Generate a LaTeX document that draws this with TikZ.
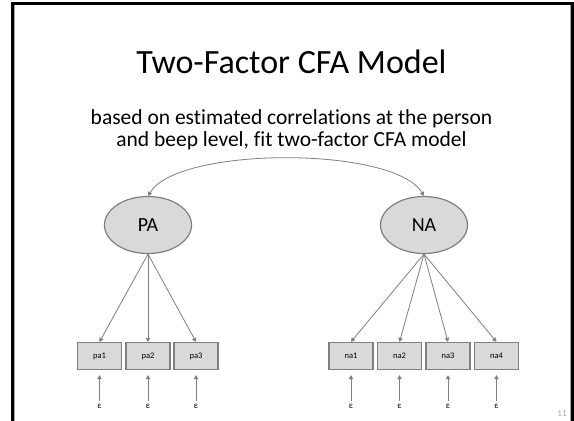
\documentclass[tikz,border=0pt]{standalone}
\usepackage{fontspec}
\setmainfont{Carlito}[Ligatures=NoCommon]
\usetikzlibrary{arrows.meta,shapes.geometric}
\definecolor{linegray}{HTML}{7F7F7F}
\definecolor{fillgray}{HTML}{D9D9D9}
\definecolor{edgegray}{HTML}{A6A6A6}

\begin{document}
\begin{tikzpicture}[x=1pt,y=-1pt,
    factor/.style={ellipse,draw=linegray,fill=fillgray,line width=1.2pt,
        minimum width=87pt,minimum height=57pt,inner sep=0pt,
        font=\fontsize{20}{24}\selectfont},
    indicator/.style={rectangle,draw=linegray,fill=fillgray,line width=1.3pt,
        minimum width=44pt,minimum height=27pt,inner sep=0pt,
        font=\fontsize{8.5}{10}\selectfont},
    resid/.style={inner sep=0pt,font=\fontsize{9}{10}\selectfont},
    load/.style={draw=linegray,line width=0.8pt,-{Triangle[length=4pt,width=4.5pt]}},
    cov/.style={draw=linegray,line width=0.8pt,
        {Triangle[length=4pt,width=4.5pt]}-{Triangle[length=4pt,width=4.5pt]}}]
    \useasboundingbox[fill=white] (0,0) rectangle (574,421);

    \draw[black,line width=3pt] (12.5,421) -- (12.5,3.5) -- (572.5,3.5) -- (572.5,421);
    \draw[edgegray,line width=1pt] (14.5,5) -- (14.5,421);
    \draw[edgegray,line width=1pt] (570.5,5) -- (570.5,421);

    \node[anchor=base,font=\fontsize{34}{40}\selectfont] (title) at (291.5,73) {Two-Factor CFA Model};
    \node[align=center,font=\fontsize{21.5}{22}\selectfont] (sub) at (291.5,130)
        {based on estimated correlations at the person\\and beep level, fit two-factor CFA model};

    \node[factor] (PA) at (148,225) {PA};
    \node[factor] (NA) at (424,225) {NA};

    \node[indicator] (pa1) at (99.5,356) {pa1};
    \node[indicator] (pa2) at (148,356) {pa2};
    \node[indicator] (pa3) at (196,356) {pa3};
    \node[indicator] (na1) at (351,356) {na1};
    \node[indicator] (na2) at (399.5,356) {na2};
    \node[indicator] (na3) at (448,356) {na3};
    \node[indicator] (na4) at (496.5,356) {na4};

    \node[resid] (e1) at (99.5,406) {ε};
    \node[resid] (e2) at (148,406) {ε};
    \node[resid] (e3) at (196,406) {ε};
    \node[resid] (e4) at (351,406) {ε};
    \node[resid] (e5) at (399.5,406) {ε};
    \node[resid] (e6) at (448,406) {ε};
    \node[resid] (e7) at (496.5,406) {ε};

    \draw[cov] (PA.north) .. controls (178,146) and (394,146) .. (NA.north);

    \draw[load] (PA.south) -- (pa1.north);
    \draw[load] (PA.south) -- (pa2.north);
    \draw[load] (PA.south) -- (pa3.north);
    \draw[load] (NA.south) -- (na1.north);
    \draw[load] (NA.south) -- (na2.north);
    \draw[load] (NA.south) -- (na3.north);
    \draw[load] (NA.south) -- (na4.north);

    \draw[load,shorten >=5pt,shorten <=3pt] (e1) -- (pa1);
    \draw[load,shorten >=5pt,shorten <=3pt] (e2) -- (pa2);
    \draw[load,shorten >=5pt,shorten <=3pt] (e3) -- (pa3);
    \draw[load,shorten >=5pt,shorten <=3pt] (e4) -- (na1);
    \draw[load,shorten >=5pt,shorten <=3pt] (e5) -- (na2);
    \draw[load,shorten >=5pt,shorten <=3pt] (e6) -- (na3);
    \draw[load,shorten >=5pt,shorten <=3pt] (e7) -- (na4);

    \node[text=edgegray,font=\fontsize{9}{10}\selectfont] (page) at (562,414) {11};
\end{tikzpicture}
\end{document}
